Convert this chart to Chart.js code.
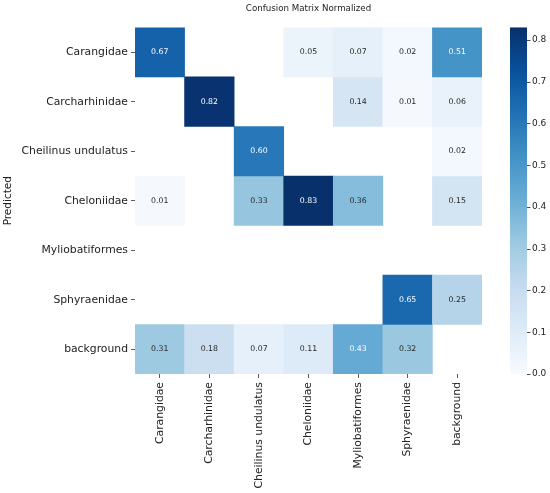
<!DOCTYPE html>
<html>
<head>
<meta charset="utf-8">
<script src="https://cdn.jsdelivr.net/npm/chart.js@4.4.1/dist/chart.umd.min.js"></script>
<style>
  html, body { margin: 0; padding: 0; background: #fff; }
  #wrap { width: 550px; height: 493px; }
</style>
</head>
<body>
<div id="wrap"><canvas id="myChart"></canvas></div>
<script>
  // true classes (columns) and predicted classes (rows)
  const trueLabels = ['Carangidae', 'Carcharhinidae', 'Cheilinus undulatus', 'Cheloniidae', 'Myliobatiformes', 'Sphyraenidae', 'background'];
  const predLabels = ['Carangidae', 'Carcharhinidae', 'Cheilinus undulatus', 'Cheloniidae', 'Myliobatiformes', 'Sphyraenidae', 'background'];

  // one row per predicted class, null = empty cell
  const rowCarangidae   = [0.67, null, null, 0.05, 0.07, 0.02, 0.51];
  const rowCarcharhin   = [null, 0.82, null, null, 0.14, 0.01, 0.06];
  const rowCheilinus    = [null, null, 0.60, null, null, null, 0.02];
  const rowCheloniidae  = [0.01, null, 0.33, 0.83, 0.36, null, 0.15];
  const rowMyliobatif   = [null, null, null, null, null, null, null];
  const rowSphyraenidae = [null, null, null, null, null, 0.65, 0.25];
  const rowBackground   = [0.31, 0.18, 0.07, 0.11, 0.43, 0.32, null];
  const rows = [rowCarangidae, rowCarcharhin, rowCheilinus, rowCheloniidae, rowMyliobatif, rowSphyraenidae, rowBackground];

  const colorbarTicks = [0.0, 0.1, 0.2, 0.3, 0.4, 0.5, 0.6, 0.7, 0.8];
  const vmax = 0.83;

  const FONT = 'DejaVu Sans';

  // matplotlib "Blues"
  const blues = ['#f7fbff', '#deebf7', '#c6dbef', '#9ecae1', '#6baed6', '#4292c6', '#2171b5', '#08519c', '#08306b'];
  const hexRgb = h => [1, 3, 5].map(i => parseInt(h.substr(i, 2), 16));
  const bluesRgb = blues.map(hexRgb);

  function cmapRgb(v) {
    let t = Math.max(0, Math.min(1, v / vmax)) * (blues.length - 1);
    let i = Math.min(Math.floor(t), blues.length - 2);
    let f = t - i;
    const a = bluesRgb[i], b = bluesRgb[i + 1];
    return a.map((c, k) => Math.round(c + (b[k] - c) * f));
  }
  const cmap = v => { const c = cmapRgb(v); return `rgb(${c[0]},${c[1]},${c[2]})`; };

  function textColor(v) {
    const lin = cmapRgb(v).map(c => { c /= 255; return c <= 0.03928 ? c / 12.92 : Math.pow((c + 0.055) / 1.055, 2.4); });
    const lum = 0.2126 * lin[0] + 0.7152 * lin[1] + 0.0722 * lin[2];
    return lum > 0.408 ? '#262626' : '#ffffff';
  }

  const datasets = rows.map((row, r) => ({
    label: predLabels[r],
    data: row.map(v => v === null ? null : [r, r + 1]),
    values: row,
    backgroundColor: row.map(v => v === null ? 'rgba(0,0,0,0)' : cmap(v)),
    borderWidth: 0,
    barPercentage: 1,
    categoryPercentage: 1,
    grouped: false
  }));

  const cellLabels = {
    id: 'cellLabels',
    afterDatasetsDraw(chart) {
      const ctx = chart.ctx;
      ctx.save();
      ctx.font = `7.8px "${FONT}"`;
      ctx.textAlign = 'center';
      ctx.textBaseline = 'middle';
      chart.data.datasets.forEach((ds, i) => {
        chart.getDatasetMeta(i).data.forEach((el, j) => {
          const v = ds.values[j];
          if (v === null) return;
          ctx.fillStyle = textColor(v);
          ctx.fillText(v.toFixed(2), el.x, (el.y + el.base) / 2);
        });
      });
      ctx.restore();
    }
  };

  const colorbar = {
    id: 'colorbar',
    afterDraw(chart) {
      const s = chart.scales.cb;
      const ctx = chart.ctx;
      const x0 = s.left + 28, w = 17;
      const top = s.getPixelForValue(vmax), bot = s.getPixelForValue(0);
      const g = ctx.createLinearGradient(0, bot, 0, top);
      blues.forEach((c, i) => g.addColorStop(i / (blues.length - 1), c));
      ctx.save();
      ctx.fillStyle = g;
      ctx.fillRect(x0, top, w, bot - top);
      ctx.strokeStyle = '#222';
      ctx.lineWidth = 0.8;
      colorbarTicks.forEach(v => {
        const y = Math.round(s.getPixelForValue(v)) + 0.5;
        ctx.beginPath();
        ctx.moveTo(x0 + w, y);
        ctx.lineTo(x0 + w + 3.5, y);
        ctx.stroke();
      });
      ctx.restore();
    }
  };

  const ctx = document.getElementById('myChart');

  new Chart(ctx, {
    type: 'bar',
    data: { labels: trueLabels, datasets: datasets },
    plugins: [cellLabels, colorbar],
    options: {
      responsive: true,
      maintainAspectRatio: false,
      animation: false,
      layout: { padding: 0 },
      plugins: {
        legend: { display: false },
        tooltip: { enabled: false },
        title: {
          display: true,
          fullSize: false,
          text: 'Confusion Matrix Normalized',
          color: '#222',
          font: { family: FONT, size: 8.7, weight: 'normal' },
          padding: { top: 4, bottom: 13 }
        }
      },
      scales: {
        x: {
          type: 'category',
          position: 'bottom',
          grid: { display: true, drawOnChartArea: false, offset: false, tickLength: 4, color: '#333', tickWidth: 0.8 },
          border: { display: false },
          ticks: {
            color: '#222',
            font: { family: FONT, size: 10.8 },
            minRotation: 90,
            maxRotation: 90,
            padding: 4
          },
          afterFit(scale) { scale.height = 119; }
        },
        y: {
          type: 'linear',
          min: 0,
          max: 7,
          reverse: true,
          grid: { display: true, drawOnChartArea: false, tickLength: 4, color: '#333', tickWidth: 0.8 },
          border: { display: false },
          afterBuildTicks(scale) { scale.ticks = predLabels.map((l, i) => ({ value: i + 0.5 })); },
          ticks: {
            color: '#222',
            font: { family: FONT, size: 10.8 },
            padding: 3,
            callback: (v) => predLabels[Math.floor(v)]
          },
          title: {
            display: true,
            text: 'Predicted',
            color: '#222',
            font: { family: FONT, size: 10.5 },
            padding: { top: 2, bottom: 0 }
          },
          afterFit(scale) { scale.width = 135; }
        },
        cb: {
          type: 'linear',
          position: 'right',
          min: 0,
          max: vmax,
          // invisible long ticks push the labels past the colour strip
          grid: { display: true, drawOnChartArea: false, drawTicks: true, tickLength: 48, color: 'rgba(0,0,0,0)' },
          border: { display: false },
          afterBuildTicks(scale) { scale.ticks = colorbarTicks.map(v => ({ value: v })); },
          ticks: {
            color: '#222',
            font: { family: FONT, size: 9 },
            padding: 2,
            callback: (v) => v.toFixed(1)
          },
          afterFit(scale) { scale.width = 68; }
        }
      }
    }
  });
</script>
</body>
</html>
